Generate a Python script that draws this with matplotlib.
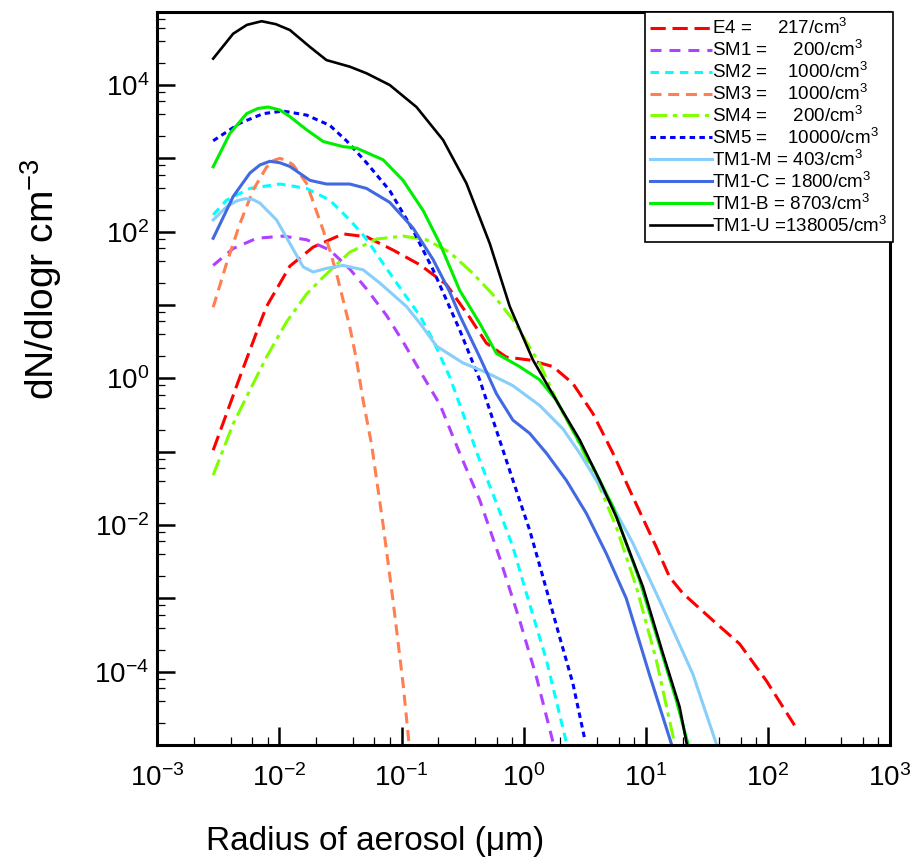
import numpy as np
import matplotlib
matplotlib.use("Agg")
import matplotlib.pyplot as plt
from matplotlib.ticker import LogLocator, FuncFormatter, NullFormatter

plt.rcParams['font.family'] = ['Liberation Sans', 'DejaVu Sans']
plt.rcParams['mathtext.fontset'] = 'custom'
plt.rcParams['mathtext.rm'] = 'Liberation Sans'
plt.rcParams['mathtext.it'] = 'Liberation Sans'

# curves, as log10(radius in um) and log10(dN/dlogr)
e4_lr = [-2.543, -2.433, -2.324, -2.160, -2.106, -1.915, -1.724, -1.479, -1.287, -1.070, -0.851, -0.633,
         -0.442, -0.305, -0.142, 0.049, 0.240, 0.403, 0.567, 0.731, 0.895, 1.086, 1.195, 1.303, 1.549,
         1.768, 1.986, 2.218]
e4_ln = [-0.98, -0.48, 0.02, 0.75, 0.98, 1.53, 1.79, 1.97, 1.93, 1.75, 1.55, 1.28,
         0.83, 0.48, 0.29, 0.25, 0.16, -0.07, -0.48, -1.02, -1.62, -2.30, -2.71, -2.93, -3.30,
         -3.62, -4.12, -4.73]

sm1_lr = [-2.543, -2.379, -2.187, -1.970, -1.778, -1.588, -1.424, -1.287, -1.124, -0.988, -0.849, -0.685,
          -0.524, -0.360, -0.196, -0.033, 0.104, 0.240]
sm1_ln = [1.54, 1.77, 1.91, 1.94, 1.89, 1.75, 1.49, 1.22, 0.86, 0.50, 0.10, -0.36,
          -1.02, -1.66, -2.45, -3.30, -4.07, -4.96]

sm2_lr = [-2.543, -2.433, -2.242, -1.997, -1.778, -1.588, -1.424, -1.287, -1.124, -0.960, -0.849, -0.742,
          -0.606, -0.497, -0.360, -0.223, -0.088, 0.022, 0.186, 0.349]
sm2_ln = [2.23, 2.43, 2.59, 2.65, 2.59, 2.43, 2.16, 1.90, 1.50, 1.11, 0.85, 0.52,
          0.02, -0.48, -1.12, -1.70, -2.30, -2.93, -3.84, -4.96]

sm3_lr = [-2.543, -2.433, -2.324, -2.215, -2.106, -2.05, -1.997, -1.94, -1.888, -1.778, -1.710, -1.642,
          -1.588, -1.533, -1.479, -1.424, -1.369, -1.315, -1.246, -1.151, -1.070, -0.988, -0.939]
sm3_ln = [0.97, 1.57, 2.11, 2.57, 2.88, 2.97, 3.00, 2.97, 2.91, 2.66, 2.34, 2.02,
          1.75, 1.43, 1.07, 0.70, 0.25, -0.30, -0.90, -2.00, -3.03, -4.16, -4.98]

sm4_lr = [-2.543, -2.379, -2.242, -2.106, -1.942, -1.778, -1.642, -1.424, -1.205, -0.988, -0.796, -0.606,
          -0.415, -0.251, -0.088, 0.131, 0.295, 0.431, 0.622, 0.759, 0.922, 1.086, 1.236]
sm4_ln = [-1.32, -0.62, -0.16, 0.29, 0.77, 1.15, 1.38, 1.72, 1.90, 1.94, 1.89, 1.72,
          1.43, 1.14, 0.80, 0.20, -0.39, -0.80, -1.48, -2.03, -2.84, -3.84, -4.98]

sm5_lr = [-2.543, -2.324, -2.133, -1.970, -1.778, -1.588, -1.451, -1.287, -1.097, -0.906, -0.742, -0.524,
          -0.360, -0.223, -0.088, 0.049, 0.158, 0.295, 0.403, 0.499]
sm5_ln = [3.24, 3.48, 3.61, 3.645, 3.59, 3.45, 3.24, 2.94, 2.56, 2.02, 1.48, 0.66,
          -0.02, -0.71, -1.39, -2.07, -2.71, -3.53, -4.16, -4.91]

tm1m_lr = [-2.543, -2.433, -2.35, -2.283, -2.22, -2.160, -2.024, -1.915, -1.806, -1.724, -1.615, -1.479,
           -1.315, -1.178, -0.960, -0.849, -0.714, -0.497, -0.305, -0.088, 0.131, 0.322, 0.459, 0.595,
           0.731, 0.895, 1.113, 1.385, 1.577]
tm1m_ln = [2.16, 2.34, 2.42, 2.45, 2.44, 2.39, 2.16, 1.84, 1.52, 1.45, 1.50, 1.54,
           1.48, 1.30, 0.98, 0.75, 0.44, 0.21, 0.08, -0.10, -0.37, -0.69, -1.02, -1.39,
           -1.75, -2.25, -3.03, -4.03, -4.98]

tm1c_lr = [-2.543, -2.379, -2.242, -2.16, -2.079, -1.997, -1.915, -1.751, -1.615, -1.424, -1.287, -1.097,
           -0.906, -0.742, -0.606, -0.524, -0.360, -0.223, -0.088, 0.049, 0.186, 0.349, 0.513, 0.677,
           0.840, 1.032, 1.209]
tm1c_ln = [1.91, 2.48, 2.80, 2.91, 2.96, 2.94, 2.89, 2.70, 2.65, 2.65, 2.59, 2.40,
           2.05, 1.62, 1.18, 0.86, 0.29, -0.21, -0.57, -0.75, -1.02, -1.39, -1.84, -2.39,
           -3.00, -4.05, -4.98]

tm1b_lr = [-2.543, -2.406, -2.269, -2.177, -2.092, -1.997, -1.915, -1.778, -1.642, -1.479, -1.369, -1.151,
           -0.988, -0.824, -0.687, -0.524, -0.360, -0.223, -0.033, 0.131, 0.268, 0.403, 0.567, 0.731,
           0.949, 1.250, 1.345]
tm1b_ln = [2.885, 3.34, 3.61, 3.68, 3.70, 3.66, 3.57, 3.39, 3.23, 3.16, 3.14, 2.98,
           2.70, 2.29, 1.84, 1.20, 0.75, 0.34, 0.16, -0.02, -0.30, -0.71, -1.21, -1.75,
           -2.75, -4.39, -4.98]

tm1u_lr = [-2.543, -2.379, -2.267, -2.146, -2.03, -1.915, -1.751, -1.615, -1.424, -1.287, -1.097, -0.878,
           -0.660, -0.469, -0.278, -0.114, 0.076, 0.295, 0.459, 0.622, 0.759, 0.976, 1.140, 1.277, 1.335]
tm1u_ln = [4.36, 4.70, 4.82, 4.87, 4.83, 4.75, 4.52, 4.34, 4.25, 4.16, 4.00, 3.70,
           3.25, 2.66, 1.84, 0.98, 0.25, -0.38, -0.84, -1.39, -1.89, -2.84, -3.75, -4.48, -4.98]

labels = ["E4 =     217/cm$^3$", "SM1 =     200/cm$^3$", "SM2 =    1000/cm$^3$", "SM3 =    1000/cm$^3$",
          "SM4 =     200/cm$^3$", "SM5 =    10000/cm$^3$", "TM1-M = 403/cm$^3$", "TM1-C = 1800/cm$^3$",
          "TM1-B = 8703/cm$^3$", "TM1-U =138005/cm$^3$"]

series = [
    (e4_lr, e4_ln, "#ff0000", (0, (5, 2.2)), 2.2),
    (sm1_lr, sm1_ln, "#b040ff", (0, (3.6, 2.6)), 2.2),
    (sm2_lr, sm2_ln, "#00ffff", (0, (2.8, 2)), 2.2),
    (sm3_lr, sm3_ln, "#ff7f50", (0, (3.6, 2.2)), 2.2),
    (sm4_lr, sm4_ln, "#7fff00", (0, (5.5, 1.8, 1.4, 1.8)), 2.2),
    (sm5_lr, sm5_ln, "#0000ff", (0, (1.8, 1.4)), 2.2),
    (tm1m_lr, tm1m_ln, "#87cefa", "-", 2.2),
    (tm1c_lr, tm1c_ln, "#4169e1", "-", 2.2),
    (tm1b_lr, tm1b_ln, "#00ee00", "-", 2.2),
    (tm1u_lr, tm1u_ln, "#000000", "-", 1.9),
]

fig = plt.figure(figsize=(9.16, 8.66), dpi=100)
ax = fig.add_axes([0.1718, 0.1397, 0.7998, 0.8468])

for (lr, ln, col, ls, lw), lab in zip(series, labels):
    ax.plot(10 ** np.array(lr), 10 ** np.array(ln), color=col, linestyle=ls, linewidth=lw, label=lab,
            solid_joinstyle='round', dash_joinstyle='round')

ax.set_xscale('log')
ax.set_yscale('log')
ax.set_xlim(1e-3, 1e3)
ax.set_ylim(1e-5, 1e5)

ax.xaxis.set_major_locator(LogLocator(base=10, numticks=20))
ax.yaxis.set_major_locator(LogLocator(base=10, numticks=20))
ax.xaxis.set_minor_locator(LogLocator(base=10, subs=(2, 4, 6, 8), numticks=40))
ax.yaxis.set_minor_locator(LogLocator(base=10, subs=(2, 4, 6, 8), numticks=40))
ax.xaxis.set_minor_formatter(NullFormatter())
ax.yaxis.set_minor_formatter(NullFormatter())


def xfmt(v, pos):
    e = int(round(np.log10(v)))
    return "10$^{%d}$" % e


def yfmt(v, pos):
    e = int(round(np.log10(v)))
    if e % 2:
        return ""
    return "10$^{%d}$" % e


ax.xaxis.set_major_formatter(FuncFormatter(xfmt))
ax.yaxis.set_major_formatter(FuncFormatter(yfmt))

ax.tick_params(which='both', direction='in', top=False, right=False, labelsize=20)
ax.tick_params(which='major', length=13, width=1.8)
ax.tick_params(which='minor', length=6, width=0.9)
ax.tick_params(axis='x', which='major', pad=14)
ax.tick_params(axis='y', which='major', pad=6)
for sp in ax.spines.values():
    sp.set_linewidth(2.2)

ax.set_xlabel("Radius of aerosol (\u03bcm)", fontsize=24, labelpad=24)
ax.xaxis.label.set_x(0.297)
ax.set_ylabel("dN/dlogr cm$^{-3}$", fontsize=28, labelpad=22)
ax.yaxis.label.set_y(0.635)

leg = ax.legend(loc='upper right', bbox_to_anchor=(1.004, 0.999), borderaxespad=0,
                prop={'size': 13.5},
                handlelength=3.3, handletextpad=0.0, labelspacing=0.1, borderpad=0.3,
                fancybox=False, framealpha=1, edgecolor='black')
leg.get_frame().set_linewidth(1.2)

fig.savefig("out.png", dpi=100)
